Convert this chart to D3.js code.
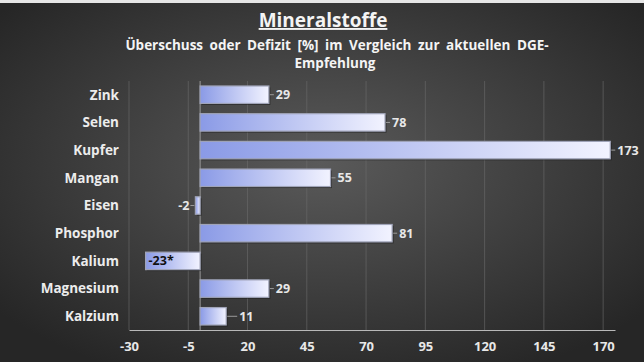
<!DOCTYPE html>
<html>
<head>
<meta charset="utf-8">
<script src="https://cdn.jsdelivr.net/npm/d3@7"></script>
<style>
  body { margin: 0; background: #333; }
  text { font-family: "Open Sans", Lato, sans-serif; font-weight: bold; }
</style>
</head>
<body>
<div id="theGraph"></div>
<script>
const categories = ["Zink", "Selen", "Kupfer", "Mangan", "Eisen", "Phosphor", "Kalium", "Magnesium", "Kalzium"];
const values = [29, 78, 173, 55, -2, 81, -23, 29, 11];
const valueLabels = ["29", "78", "173", "55", "-2", "81", "-23*", "29", "11"];
const tickValues = [-30, -5, 20, 45, 70, 95, 120, 145, 170];

const width = 644, height = 362,
    margin = {left: 129, top: 81, right: 29, bottom: 32},
    contentWidth = width - margin.left - margin.right,
    contentHeight = height - margin.top - margin.bottom;

const svg = d3.select("#theGraph").append("svg").attr("width", width).attr("height", height);
const defs = svg.append("defs");

// background
const bg = defs.append("radialGradient").attr("id", "bg")
    .attr("cx", "50%").attr("cy", "45%").attr("r", "65%");
bg.append("stop").attr("offset", "0%").attr("stop-color", "#5a5a5a");
bg.append("stop").attr("offset", "100%").attr("stop-color", "#262626");
svg.append("rect").attr("width", width).attr("height", height).attr("fill", "url(#bg)");
svg.append("rect").attr("width", width).attr("height", 3).attr("fill", "#e6e6e6");

const barGrad = defs.append("linearGradient").attr("id", "barGrad");
barGrad.append("stop").attr("offset", "0%").attr("stop-color", "#8a9ae6");
barGrad.append("stop").attr("offset", "100%").attr("stop-color", "#f2f3ff");

const maing = svg.append("g").attr("transform", `translate(${margin.left}, ${margin.top})`);

const xScale = d3.scaleLinear().domain([-30, 175]).range([0, contentWidth]);
const yScale = d3.scaleBand().domain(categories).range([0, contentHeight]).paddingInner(0.37).paddingOuter(0.18);

// grid
maing.selectAll(".grid").data(tickValues).enter().append("line")
    .attr("class", "grid")
    .attr("x1", d => xScale(d)).attr("x2", d => xScale(d))
    .attr("y1", 0).attr("y2", contentHeight)
    .attr("stroke", "#6a6a6a").attr("stroke-opacity", 0.6).attr("stroke-width", 1);

// zero line
maing.append("line")
    .attr("x1", xScale(0)).attr("x2", xScale(0))
    .attr("y1", 0).attr("y2", contentHeight)
    .attr("stroke", "#9a9a9a").attr("stroke-width", 1);

// x axis
const xAxis = d3.axisBottom(xScale).tickValues(tickValues).tickSize(0).tickPadding(12)
    .tickFormat(d => String(d));
const ax = maing.append("g").attr("transform", `translate(0, ${contentHeight})`).call(xAxis);
ax.select(".domain").attr("stroke", "#b8b8b8");
ax.selectAll("text").attr("fill", "#e8e8e8").attr("font-size", 13)
    .style("font-family", "'Open Sans', sans-serif").style("font-weight", "bold");

// y labels
maing.selectAll(".cat").data(categories).enter().append("text")
    .attr("class", "cat")
    .attr("x", -10).attr("y", d => yScale(d) + yScale.bandwidth() / 2)
    .attr("dy", "0.36em").attr("text-anchor", "end")
    .attr("fill", "#ececec").attr("font-size", 13.5)
    .text(d => d);

const data = categories.map((c, i) => ({cat: c, v: values[i], label: valueLabels[i]}));

// bar shadow
maing.selectAll(".shadow").data(data).enter().append("rect")
    .attr("class", "shadow")
    .attr("x", d => Math.min(xScale(0), xScale(d.v)) + 1.5)
    .attr("y", d => yScale(d.cat) + 1.5)
    .attr("width", d => Math.abs(xScale(d.v) - xScale(0)))
    .attr("height", yScale.bandwidth())
    .attr("fill", "#1e1e1e").attr("opacity", 0.6);

// bars
maing.selectAll(".bar").data(data).enter().append("rect")
    .attr("class", "bar")
    .attr("x", d => Math.min(xScale(0), xScale(d.v)))
    .attr("y", d => yScale(d.cat))
    .attr("width", d => Math.abs(xScale(d.v) - xScale(0)))
    .attr("height", yScale.bandwidth())
    .attr("fill", "url(#barGrad)")
    .attr("stroke", "#a0a4b8").attr("stroke-width", 1.2);

// leader lines and labels
const outside = data.filter(d => d.cat !== "Kalium");
maing.selectAll(".lead").data(outside).enter().append("line")
    .attr("class", "lead")
    .attr("x1", d => d.v >= 0 ? xScale(d.v) + 1 : xScale(d.v) - 1)
    .attr("x2", d => d.v >= 0 ? xScale(d.v) + (d.v < 20 ? 11 : 5) : xScale(d.v) - 5)
    .attr("y1", d => yScale(d.cat) + yScale.bandwidth() / 2)
    .attr("y2", d => yScale(d.cat) + yScale.bandwidth() / 2)
    .attr("stroke", "#9a9a9a");

maing.selectAll(".val").data(outside).enter().append("text")
    .attr("class", "val")
    .attr("x", d => d.v >= 0 ? xScale(d.v) + (d.v < 20 ? 13 : 7) : xScale(d.v) - 6)
    .attr("y", d => yScale(d.cat) + yScale.bandwidth() / 2)
    .attr("dy", "0.36em")
    .attr("text-anchor", d => d.v >= 0 ? "start" : "end")
    .attr("fill", "#e8e8e8").attr("font-size", 12.5)
    .text(d => d.label);

const kal = data.filter(d => d.cat === "Kalium");
maing.selectAll(".inval").data(kal).enter().append("text")
    .attr("class", "inval")
    .attr("x", d => xScale(d.v) + 3)
    .attr("y", d => yScale(d.cat) + yScale.bandwidth() / 2)
    .attr("dy", "0.36em")
    .attr("fill", "#111").attr("font-size", 12.5)
    .text(d => d.label);

// titles
svg.append("text").attr("x", 323).attr("y", 27)
    .attr("text-anchor", "middle").attr("fill", "#f4f4f4").attr("font-size", 19)
    .attr("text-decoration", "underline")
    .text("Mineralstoffe");
svg.append("text").attr("x", 337).attr("y", 50)
    .attr("text-anchor", "middle").attr("fill", "#f4f4f4").attr("font-size", 13.5)
    .attr("word-spacing", 3)
    .text("Überschuss oder Defizit [%] im Vergleich zur aktuellen DGE-");
svg.append("text").attr("x", 335).attr("y", 68)
    .attr("text-anchor", "middle").attr("fill", "#f4f4f4").attr("font-size", 13.5)
    .text("Empfehlung");
</script>
</body>
</html>
